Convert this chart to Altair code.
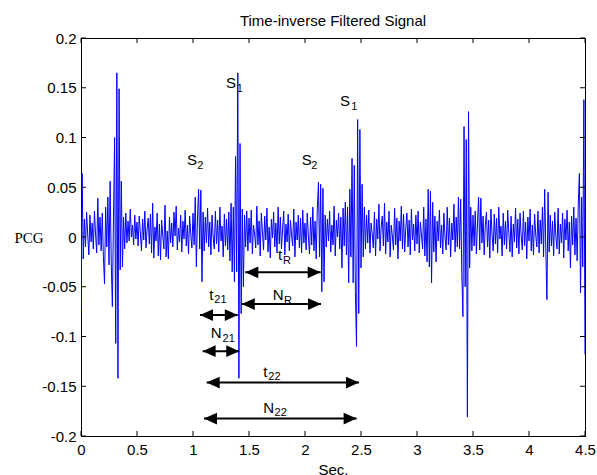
import altair as alt
import pandas as pd

# ---- signal samples (milli-units), one every 0.01 s ----
seg_000 = [-73, 64, -22, 18, -10, 25, 2, -18, 22, -5,
           14, -12, 26, 3, -16, 39, -8, 20, -14, 24,
           -20, -47, 30, -10, 40, -28, 56, -25, -70, 20,
           100, -107, 165, -142, 149, -33, 56, -30, 20, -12,
           24, -6, 16, -4, 28, 0, 12, -8, 22, -2]
seg_050 = [15, -9, 21, 4, -14, 18, -3, 26, -11, 8,
           19, -7, 23, -16, 34, -21, 10, -4, 24, -19,
           13, -23, 17, 2, -12, 32, -20, 6, -22, 20,
           -6, 14, -10, 25, 1, 31, -13, 9, -5, 22,
           -15, 16, -2, 27, -9, 12, -17, 21, 3, -11]
seg_100 = [24, -8, 40, -30, 18, 48, -12, 47, -45, 25,
           -14, 20, -6, 29, -10, 15, -18, 22, 0, -12,
           26, -7, 17, -15, 30, -4, 11, -20, 23, -9,
           18, -13, 25, -24, 34, -35, 30, -45, 81, -35,
           165, -142, 94, -77, 28, -50, 22, -10, 26, -14]
seg_150 = [19, -6, 27, -17, 12, 3, -11, 31, -8, 16,
           -19, 24, 5, -13, 21, -3, 29, -15, 10, -21,
           18, -1, 25, -10, 14, -16, 30, -7, 20, -12,
           8, 26, -18, 13, -5, 23, -14, 17, 2, -9,
           28, -20, 15, -3, 22, -11, 19, -16, 27, -6]
seg_200 = [14, -13, 24, 1, -17, 20, -8, 30, -14, 16,
           -22, 28, 55, -20, 53, -55, 49, -45, 22, -10,
           18, -4, 26, -15, 12, -8, 31, -19, 17, 0,
           24, -12, 20, -31, 29, -9, 35, -18, 30, -46,
           48, -20, 79, -46, 72, -55, -110, 118, -77, 108]
seg_250 = [-31, 53, -20, 30, -12, 22, -6, 27, -16, 14,
           3, -11, 25, -19, 18, -2, 33, -14, 10, 21,
           -9, 34, -17, 15, -5, 26, -20, 12, 1, -13,
           29, -8, 19, -22, 16, -4, 31, -12, 23, -15,
           9, 24, -10, 17, -18, 28, -3, 13, -14, 22]
seg_300 = [-7, 26, -16, 15, 2, -12, 30, -19, 18, -25,
           48, -30, 46, -46, 35, -15, 21, -25, 16, -4,
           27, -11, 12, -17, 24, 0, -13, 30, -8, 19,
           -20, 14, -3, 33, -15, 20, -10, 40, -12, 38,
           -36, -80, 111, -50, 98, -181, 126, -31, 30, -14]
seg_350 = [22, -9, 26, -17, 14, 40, -13, 39, -6, 21,
           -18, 12, 25, -10, 17, -21, 28, 3, -14, 23,
           -7, 19, -16, 30, -2, 11, -19, 24, -8, 16,
           -12, 27, 4, -15, 21, -20, 13, -5, 29, -11,
           18, -17, 24, 1, -13, 26, -9, 15, -22, 20]
seg_400 = [-4, 28, -14, 12, -18, 23, 2, -10, 26, -16,
           17, -7, 30, -20, 48, -12, -63, 45, -15, 22,
           -9, 16, -19, 25, 0, -12, 29, -17, 13, -6,
           24, -21, 18, -3, 27, -14, 15, -31, 21, -8,
           30, -18, 19, -24, 33, 64, -56, 40, -30, 138]
seg_450 = [-118]

x_ticks = [0, 0.5, 1, 1.5, 2, 2.5, 3, 3.5, 4, 4.5]
y_ticks = [-0.2, -0.15, -0.1, -0.05, 0, 0.05, 0.1, 0.15, 0.2]

# annotation labels (main letter + subscript), positions in data units
label_main = ["S", "S", "S", "S", "t", "N", "t", "N", "t", "N"]
label_sub = ["1", "2", "2", "1", "R", "R", "21", "21", "22", "22"]
label_x = [1.295, 0.946, 1.971, 2.3125, 1.759, 1.712, 1.146, 1.158, 1.628, 1.628]
label_y = [0.150, 0.0725, 0.0725, 0.1312, -0.0232, -0.0634, -0.0629, -0.1017, -0.1406, -0.177]
sub_x = [1.390, 1.038, 2.056, 2.413, 1.803, 1.812, 1.190, 1.264, 1.672, 1.728]
sub_y = [0.146, 0.0684, 0.0684, 0.1273, -0.0272, -0.0674, -0.0664, -0.1052, -0.1440, -0.1797]

# double-headed arrows
arrow_name = ["tR", "NR", "t21", "N21", "t22", "N22"]
arrow_x1 = [1.467, 1.435, 1.0625, 1.086, 1.122, 1.098]
arrow_x2 = [2.140, 2.143, 1.400, 1.413, 2.482, 2.461]
arrow_y = [-0.0355, -0.0674, -0.0785, -0.1147, -0.1463, -0.1825]

pcg_milli = (seg_000 + seg_050 + seg_100 + seg_150 + seg_200 +
             seg_250 + seg_300 + seg_350 + seg_400 + seg_450)
time_s = [round(0.01 * i, 2) for i in range(len(pcg_milli))]
signal = pd.DataFrame({"t": time_s, "pcg": [v / 1000 for v in pcg_milli]})
labels_main = pd.DataFrame({"txt": label_main, "t": label_x, "pcg": label_y})
labels_sub = pd.DataFrame({"txt": label_sub, "t": sub_x, "pcg": sub_y})
arrows = pd.DataFrame({"name": arrow_name, "t": arrow_x1, "t_end": arrow_x2, "pcg": arrow_y})
arrows_r = pd.DataFrame({"name": arrow_name, "t": arrow_x2, "pcg": arrow_y})
xt = pd.DataFrame({"t": x_ticks})
yt = pd.DataFrame({"pcg": y_ticks})

FONT = "Liberation Sans"
xs = alt.Scale(domain=[0, 4.5], nice=False, zero=False)
ys = alt.Scale(domain=[-0.2, 0.2], nice=False, zero=False)

x_axis = alt.Axis(
    values=x_ticks, labelExpr="toString(datum.value)", title="Sec.",
    ticks=False, grid=False, labelFont=FONT, labelFontSize=15, labelColor="black",
    labelPadding=6, labelFlush=False, labelOverlap=False,
    titleFont=FONT, titleFontSize=15, titleFontWeight="normal", titleColor="black",
    titleBaseline="alphabetic", titleY=38, domainColor="black")
y_axis = alt.Axis(
    values=y_ticks, labelExpr="toString(datum.value)", title="PCG",
    ticks=False, grid=False, labelFont=FONT, labelFontSize=15, labelColor="black",
    labelPadding=5, labelFlush=False, labelOverlap=False,
    titleFont="Liberation Serif", titleFontSize=15, titleFontWeight="normal",
    titleColor="black", titleAngle=0, titleAlign="left", titleBaseline="middle",
    titleX=-67, titleY=199, domainColor="black")

X = alt.X("t:Q", scale=xs, axis=x_axis)
Y = alt.Y("pcg:Q", scale=ys, axis=y_axis)

line = alt.Chart(signal).mark_line(color="#0000ff", strokeWidth=1, clip=True).encode(x=X, y=Y)

main_text = alt.Chart(labels_main).mark_text(align="left", baseline="alphabetic", font=FONT,
                                             fontSize=15, color="black").encode(
    x=X, y=Y, text="txt:N")
sub_text = alt.Chart(labels_sub).mark_text(align="left", baseline="alphabetic", font=FONT,
                                           fontSize=11, color="black").encode(
    x=X, y=Y, text="txt:N")

shafts = alt.Chart(arrows).mark_rule(color="black", strokeWidth=2).encode(
    x=X, x2="t_end:Q", y=Y)
head_l = alt.Chart(arrows).mark_point(shape="M0,0L1,-0.45L1,0.45Z", filled=True, size=676,
                                      color="black", opacity=1, strokeWidth=0).encode(x=X, y=Y)
head_r = alt.Chart(arrows_r).mark_point(shape="M0,0L-1,-0.45L-1,0.45Z", filled=True, size=676,
                                        color="black", opacity=1, strokeWidth=0).encode(x=X, y=Y)

tick_b = alt.Chart(xt).mark_rule(color="black", strokeWidth=1).encode(
    x=X, y=alt.value(398), y2=alt.value(393))
tick_t = alt.Chart(xt).mark_rule(color="black", strokeWidth=1).encode(
    x=X, y=alt.value(0), y2=alt.value(5))
tick_l = alt.Chart(yt).mark_rule(color="black", strokeWidth=1).encode(
    y=Y, x=alt.value(0), x2=alt.value(5))
tick_r = alt.Chart(yt).mark_rule(color="black", strokeWidth=1).encode(
    y=Y, x=alt.value(504), x2=alt.value(499))

chart = alt.layer(
    line, main_text, sub_text, shafts, head_l, head_r, tick_b, tick_t, tick_l, tick_r
).properties(
    width=504, height=398,
    title=alt.Title("Time-inverse Filtered Signal", font=FONT, fontSize=15,
                    fontWeight="normal", color="black", anchor="middle",
                    frame="group", offset=2),
    padding={"left": 81, "top": 38, "right": 12, "bottom": 39},
    autosize="none",
    background="white",
).configure_view(stroke="black", strokeWidth=1)

chart.save("out.html", embed_options={"renderer": "svg", "actions": False})
